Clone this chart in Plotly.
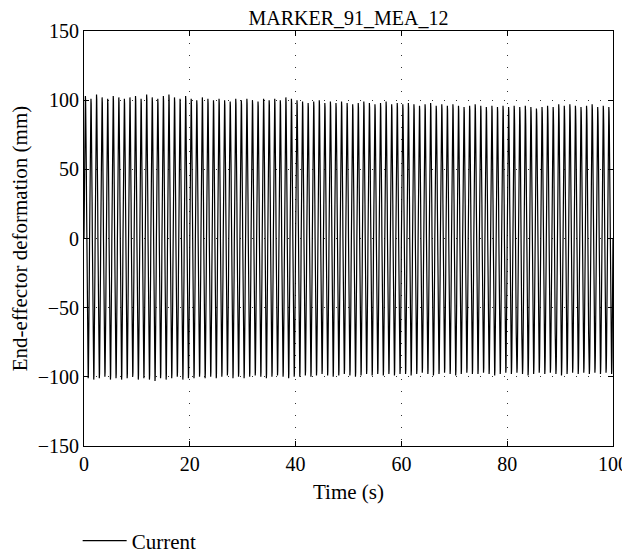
import numpy as np
import plotly.graph_objects as go

# Per-cycle positive peak amplitudes (mm)
peak_amp = [103, 101, 104, 102, 101, 103, 102, 101, 102, 103, 101, 104, 102, 101, 103, 104, 102, 101, 103,
            101, 100, 102, 101, 100, 101, 100, 99, 101, 100, 101, 100, 99, 101, 100, 101, 100, 102, 101,
            100, 99, 98, 99, 100, 98, 99, 98, 99, 98, 97, 98, 99, 98, 97, 98, 99, 97, 98,
            97, 98, 97, 96, 97, 98, 96, 97, 96, 97, 96, 95, 96, 97, 96, 95, 96, 95, 96,
            95, 96, 95, 96, 95, 94, 95, 96, 95, 97, 96, 97, 96, 95, 96, 97, 95, 96, 95]
# Per-cycle negative trough amplitudes (mm)
trough_amp = [-101, -102, -101, -100, -102, -101, -102, -101, -100, -102, -101, -102, -103, -101, -102, -101, -100, -102, -101,
              -101, -100, -101, -100, -101, -100, -99, -101, -100, -101, -100, -99, -100, -101, -100, -99, -100, -101, -100,
              -100, -99, -100, -99, -98, -99, -100, -99, -98, -99, -100, -99, -98, -99, -98, -99, -98, -99, -98,
              -98, -99, -98, -97, -98, -99, -98, -97, -98, -99, -98, -97, -98, -98, -97, -98, -99, -98, -97,
              -98, -97, -98, -99, -98, -97, -98, -97, -98, -99, -98, -97, -98, -97, -98, -97, -98, -97, -98]
t_end = 100.0
series_name = "Current"
title_text = "MARKER_91_MEA_12"
x_ticks = [0, 20, 40, 60, 80, 100]
y_ticks = [-150, -100, -50, 0, 50, 100, 150]

n = len(peak_amp)
period = t_end / n
ts, ys = [], []
phase = np.linspace(0, 1, 25)[:-1]
for k in range(n):
    s = np.sin(2 * np.pi * phase)
    v = np.where(s >= 0, s * peak_amp[k], -s * trough_amp[k])
    ts.extend((k + phase) * period)
    ys.extend(v)
ts.append(t_end)
ys.append(0.0)

font = "Liberation Serif, Times New Roman, serif"
FS = 20
W, H = 622, 547  # page body has an 8px margin
fig = go.Figure()
fig.add_trace(go.Scatter(x=ts, y=ys, mode="lines", name=series_name,
                         line=dict(color="black", width=1.2)))

axis_common = dict(showline=True, linecolor="black", linewidth=1, mirror="ticks",
                   ticks="inside", ticklen=5, tickcolor="black", automargin=False,
                   showgrid=True, gridcolor="#333333", griddash="1px,11px", gridwidth=1,
                   zeroline=False, tickfont=dict(size=FS, color="black", family=font))
fig.update_xaxes(range=[0, 100], tickvals=x_ticks,
                 title=dict(text="Time (s)", font=dict(size=21, color="black", family=font), standoff=10),
                 **axis_common)
fig.update_yaxes(range=[-150, 150], tickvals=y_ticks,
                 title=dict(text="End-effector deformation (mm)", font=dict(size=21, color="black", family=font), standoff=14),
                 **axis_common)
fig.update_layout(
    width=W, height=H,
    margin=dict(l=76, r=17, t=23, b=109),
    paper_bgcolor="white", plot_bgcolor="white",
    title=dict(text=title_text, x=0.5, xanchor="center", xref="paper", y=1 - 10 / H, yanchor="middle",
               font=dict(size=FS, color="black", family=font)),
    showlegend=True,
    legend=dict(orientation="h", x=-0.012, xanchor="left", y=14 / H, yanchor="middle", yref="container",
                itemwidth=44,
                font=dict(size=21, color="black", family=font), bgcolor="rgba(0,0,0,0)"),
    font=dict(family=font, color="black"),
)
fig.write_html("out.html")
